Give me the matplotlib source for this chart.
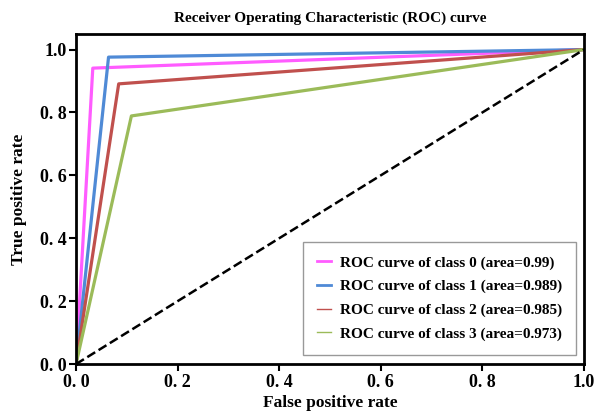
import matplotlib
matplotlib.use("Agg")
import matplotlib.pyplot as plt
from matplotlib.lines import Line2D

plt.rcParams["font.family"] = ["Liberation Serif", "DejaVu Serif"]
plt.rcParams["font.weight"] = "bold"

classes = ["0", "1", "2", "3"]
areas = ["0.99", "0.989", "0.985", "0.973"]
fpr = [[0.0, 0.033, 1.0], [0.0, 0.064, 1.0], [0.0, 0.084, 1.0], [0.0, 0.109, 1.0]]
tpr = [[0.0, 0.941, 1.0], [0.0, 0.976, 1.0], [0.0, 0.891, 1.0], [0.0, 0.789, 1.0]]
ticks = [0.0, 0.2, 0.4, 0.6, 0.8, 1.0]
tick_labels = ["0. 0", "0. 2", "0. 4", "0. 6", "0. 8", "1.0"]
colors = ["#FF5CFF", "#4F8AD6", "#C0504D", "#9BBB59"]
legend_lw = [2.0, 2.0, 1.0, 1.0]

fig = plt.figure(figsize=(5.94, 4.18), dpi=100)
ax = fig.add_axes([0.128, 0.129, 0.855, 0.790])

for i in range(len(classes)):
    ax.plot(fpr[i], tpr[i], color=colors[i], lw=2.3)
ax.plot([0, 1], [0, 1], "k--", lw=1.8)

ax.set_xlim(0, 1.0)
ax.set_ylim(0, 1.05)
ax.set_xticks(ticks)
ax.set_yticks(ticks)
ax.set_xticklabels(tick_labels, fontsize=13, fontweight="bold")
ax.set_yticklabels(tick_labels, fontsize=13, fontweight="bold")
for s in ax.spines.values():
    s.set_linewidth(2.0)
ax.tick_params(width=1.5, length=5, pad=2)

ax.set_xlabel("False positive rate", fontsize=12.5, fontweight="bold", labelpad=3)
ax.set_ylabel("True positive rate", fontsize=12.5, fontweight="bold", labelpad=9)
ax.set_title("Receiver Operating Characteristic (ROC) curve", fontsize=11, fontweight="bold", pad=9)

# legend handles drawn separately so the line widths can differ like the original
handles = [Line2D([], [], color=colors[i], lw=legend_lw[i]) for i in range(len(classes))]
labels = ["ROC curve of class %s (area=%s)" % (classes[i], areas[i]) for i in range(len(classes))]
leg = ax.legend(handles, labels, loc="upper right", bbox_to_anchor=(0.984, 0.37),
                borderaxespad=0.0, fancybox=False, edgecolor="#999999", framealpha=1,
                labelspacing=0.65, handlelength=0.9, handletextpad=0.6, borderpad=0.9,
                prop={"weight": "bold", "size": 11})
leg.get_frame().set_linewidth(1.0)

fig.savefig("out.png", dpi=100)
